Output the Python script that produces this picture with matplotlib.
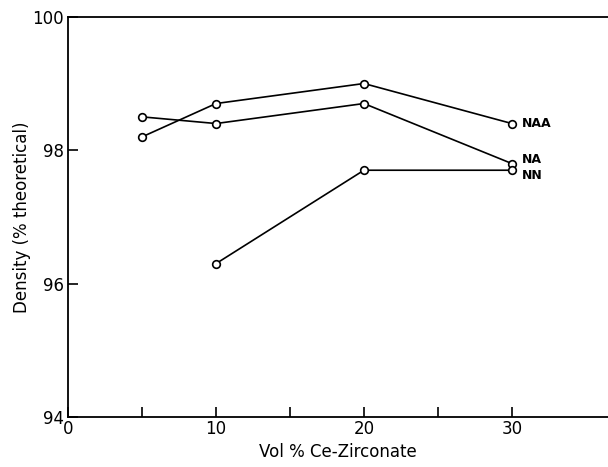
import matplotlib.pyplot as plt
from matplotlib.ticker import FixedLocator, MultipleLocator

# Density vs Ce-zirconate content for three powder routes
vol_naa = [5, 10, 20, 30]
dens_naa = [98.2, 98.7, 99.0, 98.4]

vol_na = [5, 10, 20, 30]
dens_na = [98.5, 98.4, 98.7, 97.8]

vol_nn = [10, 20, 30]
dens_nn = [96.3, 97.7, 97.7]

series = [
    ('NAA', vol_naa, dens_naa, (7, 0)),
    ('NA', vol_na, dens_na, (7, 3)),
    ('NN', vol_nn, dens_nn, (7, -4)),
]

plt.rcParams['font.family'] = 'DejaVu Sans'

fig = plt.figure(figsize=(6.08, 4.67), dpi=100)
ax = fig.add_axes([0.112, 0.107, 0.888, 0.857])

for name, xs, ys, off in series:
    ax.plot(xs, ys, color='black', lw=1.2, marker='o', ms=5.5,
            mfc='white', mec='black', mew=1.2, zorder=3)
    ax.annotate(name, xy=(xs[-1], ys[-1]), xytext=off, textcoords='offset points',
                ha='left', va='center', fontsize=9, fontweight='bold')

ax.set_xlim(0, 36.5)
ax.set_ylim(94, 100)
ax.xaxis.set_major_locator(FixedLocator([0, 10, 20, 30]))
ax.xaxis.set_minor_locator(FixedLocator([5, 15, 25]))
ax.yaxis.set_major_locator(MultipleLocator(2))

ax.spines['right'].set_visible(False)
for s in ['left', 'bottom', 'top']:
    ax.spines[s].set_linewidth(1.3)

ax.tick_params(axis='both', which='major', direction='in', length=7, width=1.2,
               labelsize=12, pad=2)
ax.tick_params(axis='x', which='minor', direction='in', length=7, width=1.2)
ax.tick_params(axis='y', which='major', pad=3)

ax.set_xlabel('Vol % Ce-Zirconate', fontsize=12, labelpad=4)
ax.set_ylabel('Density (% theoretical)', fontsize=12, labelpad=1)

fig.savefig('out.png', dpi=100, facecolor='white')
